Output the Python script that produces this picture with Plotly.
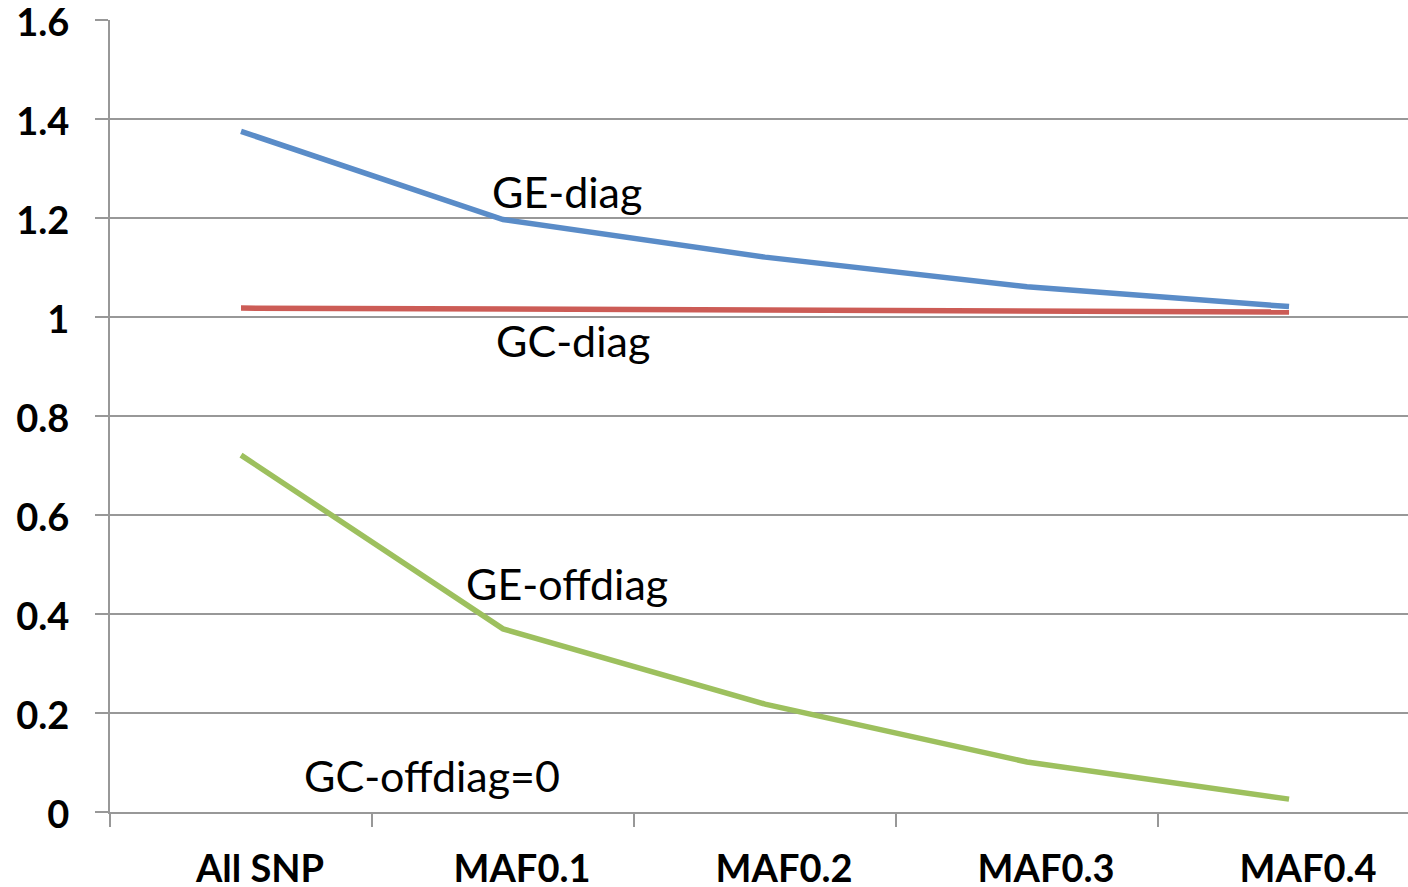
import plotly.graph_objects as go

# Categories along the x axis
categories = ["All SNP", "MAF0.1", "MAF0.2", "MAF0.3", "MAF0.4"]

# Series values
ge_diag = [1.375, 1.197, 1.121, 1.061, 1.021]
gc_diag = [1.018, 1.016, 1.013, 1.013, 1.010]
ge_offdiag = [0.721, 0.370, 0.218, 0.101, 0.026]

# Y axis ticks
y_ticks = [0, 0.2, 0.4, 0.6, 0.8, 1.0, 1.2, 1.4, 1.6]
y_tick_text = ["0", "0.2", "0.4", "0.6", "0.8", "1", "1.2", "1.4", "1.6"]

GRID = "#989898"
FONT = "Lato, Arial, sans-serif"

fig = go.Figure()
for vals, color in [(ge_diag, "#5A8CC8"), (gc_diag, "#CC5C56"), (ge_offdiag, "#9DC05E")]:
    fig.add_trace(go.Scatter(
        x=categories, y=vals, mode="lines",
        line=dict(color=color, width=5.5),
        showlegend=False, hoverinfo="skip",
    ))

# Series name labels placed beside the lines
labels = [
    ("GE-diag", 1.244, 1.253),
    ("GC-diag", 1.267, 0.953),
    ("GE-offdiag", 1.244, 0.461),
    ("GC-offdiag=0", 0.729, 0.074),
]
for text, x, y in labels:
    fig.add_annotation(
        x=x, y=y, xref="x", yref="y", text=text, showarrow=False,
        font=dict(family=FONT, size=43, color="#000000"),
        xanchor="center", yanchor="middle",
    )

fig.update_layout(
    width=1408, height=887,
    margin=dict(l=110, r=0, t=20, b=75),
    plot_bgcolor="white", paper_bgcolor="white",
    font=dict(family=FONT, color="#000000"),
)

fig.update_xaxes(
    type="category", categoryorder="array", categoryarray=categories,
    range=[-0.5, 4.454], automargin=False,
    tickson="boundaries", ticks="outside", ticklen=13, tickwidth=2, tickcolor=GRID,
    showgrid=False, showline=True, linecolor=GRID, linewidth=2,
    tickfont=dict(family=FONT, size=38, color="#000000", weight="bold"),
    ticklabelstandoff=22, ticklabelshift=19, ticklabeloverflow="allow",
    zeroline=False,
)

fig.update_yaxes(
    range=[0, 1.6], tickvals=y_ticks, ticktext=y_tick_text, automargin=False,
    ticks="outside", ticklen=13, tickwidth=2, tickcolor=GRID,
    showgrid=True, gridcolor=GRID, gridwidth=2,
    showline=True, linecolor=GRID, linewidth=2,
    tickfont=dict(family=FONT, size=38, color="#000000", weight="bold"),
    ticklabelstandoff=18, ticklabelshift=3, ticklabeloverflow="allow",
    zeroline=False,
)

fig.write_html("out.html")
